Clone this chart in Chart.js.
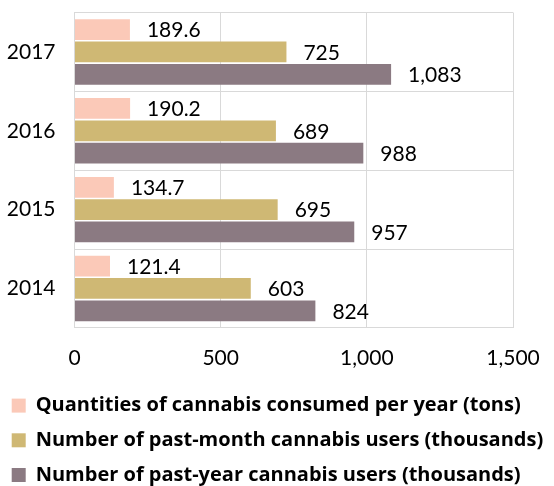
<!DOCTYPE html>
<html>
<head>
<meta charset="utf-8">
<script src="https://cdn.jsdelivr.net/npm/chart.js@4.4.1/dist/chart.umd.min.js"></script>
<style>
  body { margin: 0; background: #fff; }
  #wrap { width: 554px; height: 486px; }
</style>
</head>
<body>
<div id="wrap"><canvas id="cannabisChart" width="554" height="486"></canvas></div>
<script>
// years, top to bottom
const years = ['2017', '2016', '2015', '2014'];

// series values
const tonsConsumed = [189.6, 190.2, 134.7, 121.4];
const pastMonthUsers = [725, 689, 695, 603];
const pastYearUsers = [1083, 988, 957, 824];

const seriesNames = [
  'Quantities of cannabis consumed per year (tons)',
  'Number of past-month cannabis users (thousands)',
  'Number of past-year cannabis users (thousands)'
];

const xTicks = [0, 500, 1000, 1500];

const gridColor = '#d9d9d9';
const fontFamily = 'Lato, "Open Sans", sans-serif';

// draws the value next to the end of every bar
const valueLabels = {
  id: 'valueLabels',
  afterDatasetsDraw(chart) {
    const ctx = chart.ctx;
    ctx.save();
    ctx.font = '21px ' + fontFamily;
    ctx.fillStyle = '#000';
    ctx.textAlign = 'left';
    ctx.textBaseline = 'middle';
    chart.data.datasets.forEach((ds, di) => {
      const meta = chart.getDatasetMeta(di);
      meta.data.forEach((bar, i) => {
        const v = ds.data[i];
        const txt = di === 0 ? v.toFixed(1) : v.toLocaleString('en-US');
        ctx.fillText(txt, bar.x + 17, bar.y + 1);
      });
    });
    ctx.restore();
  }
};

const config = {
  type: 'bar',
  data: {
    labels: years,
    datasets: [
      { label: seriesNames[0], data: tonsConsumed, backgroundColor: '#fbc9b8' },
      { label: seriesNames[1], data: pastMonthUsers, backgroundColor: '#cfb874' },
      { label: seriesNames[2], data: pastYearUsers, backgroundColor: '#8b7a82' }
    ]
  },
  options: {
    indexAxis: 'y',
    responsive: false,
    animation: false,
    devicePixelRatio: 1,
    categoryPercentage: 0.85,
    barPercentage: 0.93,
    layout: {
      padding: { top: 12.5, right: 0, left: -3, bottom: -9 }
    },
    scales: {
      x: {
        min: 0,
        max: 1500,
        afterBuildTicks(scale) {
          scale.ticks = xTicks.map(v => ({ value: v }));
        },
        afterFit(scale) {
          scale.height = 53;
          scale.paddingRight = 41;
        },
        grid: { color: gridColor, drawTicks: false },
        border: { color: gridColor },
        ticks: {
          padding: 18,
          color: '#000',
          font: { family: fontFamily, size: 21 }
        }
      },
      y: {
        afterFit(scale) {
          scale.width = 77.5;
          scale.paddingTop = 0;
          scale.paddingBottom = 0;
        },
        grid: { color: gridColor, drawTicks: false },
        border: { color: gridColor },
        ticks: {
          padding: 19,
          color: '#000',
          font: { family: fontFamily, size: 21 }
        }
      }
    },
    plugins: {
      tooltip: { enabled: false },
      legend: {
        position: 'bottom',
        align: 'start',
        labels: {
          boxWidth: 14,
          boxHeight: 14,
          padding: 14.7,
          color: '#000',
          font: { family: '"Open Sans", Lato, sans-serif', size: 20, weight: 'bold' }
        }
      }
    }
  },
  plugins: [valueLabels]
};

const cannabisChart = new Chart(document.getElementById('cannabisChart'), config);
</script>
</body>
</html>
